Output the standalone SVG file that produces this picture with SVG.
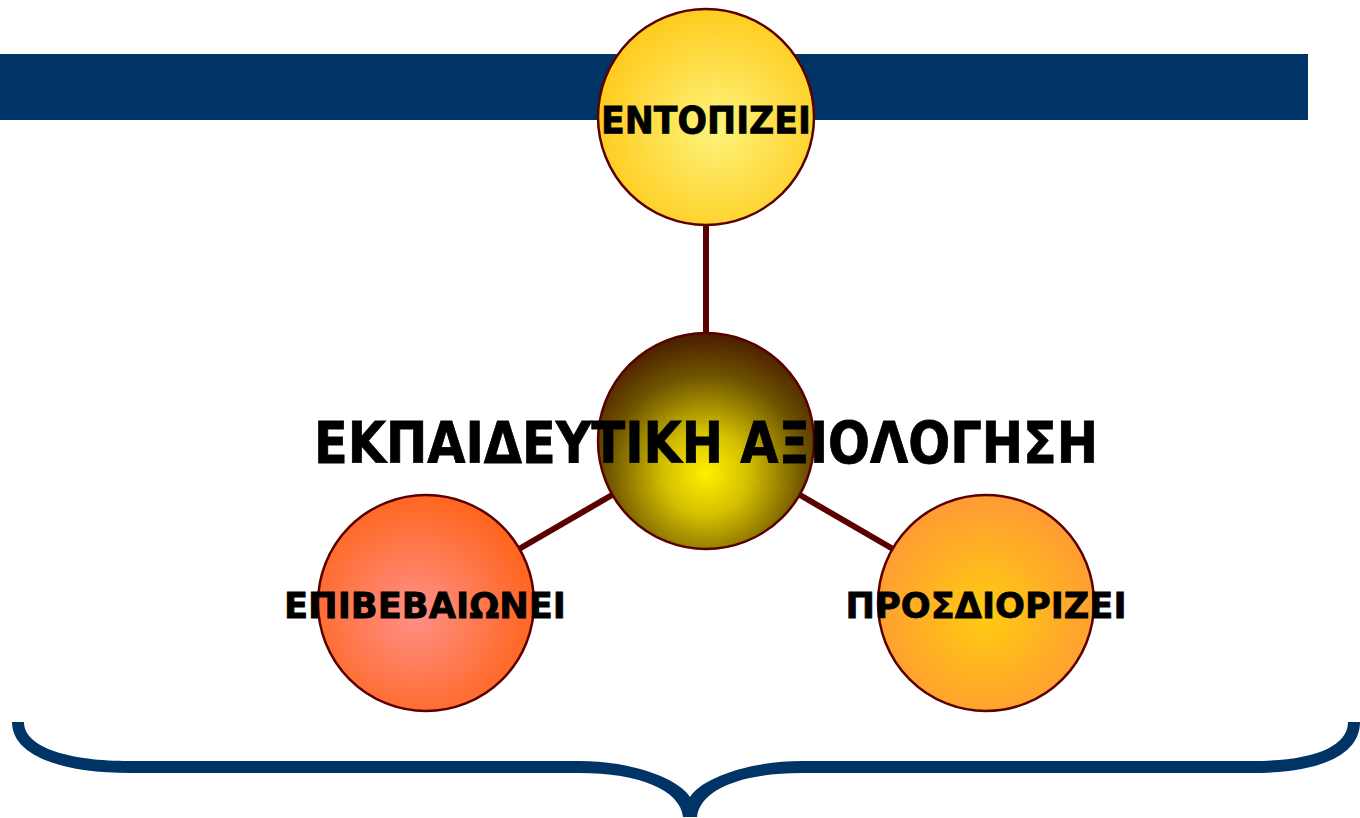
<svg xmlns="http://www.w3.org/2000/svg" width="1360" height="818" viewBox="0 0 1360 818">
<style>
.node{stroke:#5a0000;stroke-width:2.5}
.lbl{font-family:"DejaVu Sans","Liberation Sans",sans-serif;font-weight:bold;fill:#000;stroke:#000;stroke-width:0.8;text-anchor:middle}
.conn{stroke:#5a0000;stroke-width:6;fill:none}
</style>
<defs>
<radialGradient id="gTop" cx="0.55" cy="0.55" r="0.55">
<stop offset="0" stop-color="#fcf47c"/>
<stop offset="1" stop-color="#ffcc1f"/>
</radialGradient>
<radialGradient id="gCenter" cx="0.5" cy="0.65" r="0.65">
<stop offset="0" stop-color="#fff000"/>
<stop offset="0.3" stop-color="#d4c000"/>
<stop offset="0.7" stop-color="#6e5400"/>
<stop offset="1" stop-color="#4a1c00"/>
</radialGradient>
<radialGradient id="gLeft" cx="0.45" cy="0.55" r="0.55">
<stop offset="0" stop-color="#ff9088"/>
<stop offset="1" stop-color="#ff6620"/>
</radialGradient>
<radialGradient id="gRight" cx="0.5" cy="0.55" r="0.55">
<stop offset="0" stop-color="#ffcc10"/>
<stop offset="1" stop-color="#ff9a35"/>
</radialGradient>
</defs>
<rect width="1360" height="818" fill="#fff"/>
<rect id="topbar" x="0" y="54" width="1308" height="66" fill="#003366"/>
<path id="brace" fill="#003366" d="M12 722 C12 755 60 773 130 773 L579 773 C640 773 680 790 683 817 L697 817 C700 790 740 773 802 773 L1253 773 C1320 773 1360 755 1360 722 L1348 722 C1348 748 1310 761 1253 761 L802 761 C745 761 700 780 690 797 C680 780 635 761 579 761 L130 761 C70 761 24 748 24 722 Z"/>
<g id="connectors">
<line class="conn" x1="706" y1="225" x2="706" y2="333"/>
<line class="conn" x1="612" y1="495" x2="519" y2="549"/>
<line class="conn" x1="800" y1="495" x2="893" y2="549"/>
</g>
<g id="n-top">
<circle class="node" cx="706" cy="117" r="108" fill="url(#gTop)"/>
<text class="lbl" x="706" y="133" font-size="38" textLength="210" lengthAdjust="spacingAndGlyphs">ΕΝΤΟΠΙΖΕΙ</text>
</g>
<g id="n-left">
<circle class="node" cx="426" cy="603" r="108" fill="url(#gLeft)"/>
<text class="lbl" x="425" y="618" font-size="36" textLength="282" lengthAdjust="spacingAndGlyphs">ΕΠΙΒΕΒΑΙΩΝΕΙ</text>
</g>
<g id="n-right">
<circle class="node" cx="986" cy="603" r="108" fill="url(#gRight)"/>
<text class="lbl" x="986" y="618" font-size="36" textLength="281" lengthAdjust="spacingAndGlyphs">ΠΡΟΣΔΙΟΡΙΖΕΙ</text>
</g>
<g id="n-center">
<circle class="node" cx="706" cy="441" r="108" fill="url(#gCenter)"/>
<text class="lbl" x="706" y="463" font-size="56" textLength="784" lengthAdjust="spacingAndGlyphs">ΕΚΠΑΙΔΕΥΤΙΚΗ ΑΞΙΟΛΟΓΗΣΗ</text>
</g>
</svg>
